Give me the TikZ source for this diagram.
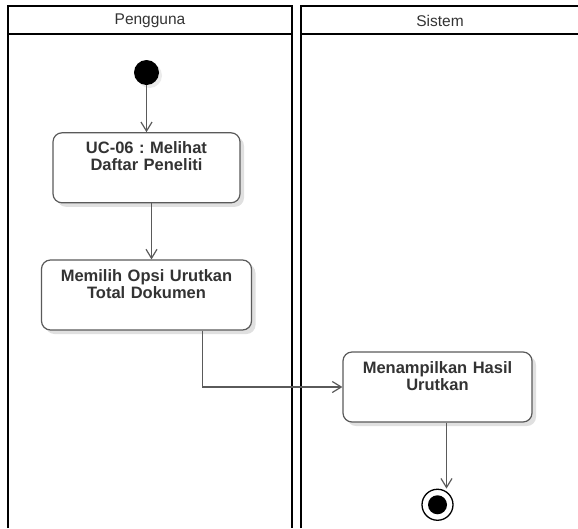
\documentclass[tikz,border=0pt]{standalone}
\usepackage{fontspec}
\setmainfont{Liberation Sans}
\usepackage{tikz}
\usetikzlibrary{arrows.meta, positioning, shadows}

\definecolor{edgegray}{HTML}{5A5A5A}
\definecolor{textgray}{HTML}{333333}
\frenchspacing

\begin{document}
\begin{tikzpicture}[
    x=1pt, y=-1pt,
    lane/.style={draw=black, line width=2.6pt},
    lanetitle/.style={font=\fontsize{15.5}{15.5}\selectfont, text=textgray},
    activity/.style={draw=edgegray, line width=1.2pt, rounded corners=9pt, fill=white,
        align=center, inner xsep=4pt, inner ysep=6pt, text height=15pt, text depth=43pt,
        font=\fontsize{16.5}{17}\selectfont\bfseries, text=textgray,
        drop shadow={shadow xshift=4pt, shadow yshift=-4pt, fill=black, opacity=0.12}},
    initial/.style={circle, fill=black, minimum size=25pt, inner sep=0pt,
        drop shadow={shadow xshift=3pt, shadow yshift=-3pt, fill=black, opacity=0.08}},
    final/.style={circle, draw=black, line width=1.3pt, fill=white, minimum size=31pt, inner sep=0pt,
        path picture={\fill[black] (path picture bounding box.center) circle (9.5pt);}},
    arrow/.style={-{Straight Barb[length=9pt, width=11pt, line width=1.2pt]}, draw=edgegray, line width=1.2pt}
]
\useasboundingbox (0,0) rectangle (578,528);

% Swimlanes
\draw[lane] (8,528) -- (8,6) -- (292,6) -- (292,528);
\draw[lane] (8,34) -- (292,34);
\draw[lane] (301,528) -- (301,6) -- (578,6);
\draw[lane] (301,34) -- (578,34);
\node[lanetitle] (pengguna) at (150,21) {Pengguna};
\node[lanetitle] (sistem) at (440,21) {Sistem};

% Pengguna
\node[initial] (start) at (146.5,72.5) {};
\node[activity, text width=179pt, below=47pt of start] (lihat) {UC-06 : Melihat\\Daftar Peneliti};
\node[activity, text width=202pt, below=56pt of lihat] (opsi) {Memilih Opsi Urutkan\\Total Dokumen};

% Sistem
\node[activity, text width=181pt] (hasil) at (437.5,387) {Menampilkan Hasil\\Urutkan};
\node[final, below=66pt of hasil] (end) {};

% Arrows
\draw[arrow] (start.south) -- (start.south |- lihat.north);
\draw[arrow] ([xshift=5pt]lihat.south) -- ([xshift=5pt]lihat.south |- opsi.north);
\draw[arrow] ([xshift=56pt]opsi.south) |- (hasil.west);
\draw[arrow] ([xshift=9pt]hasil.south) -- ([xshift=9pt]hasil.south |- end.north);

\end{tikzpicture}
\end{document}
